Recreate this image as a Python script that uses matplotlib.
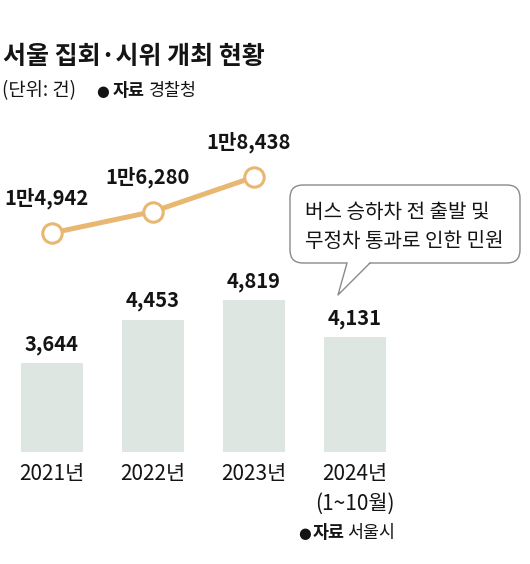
#!/usr/bin/env python3
"""Seoul rally/protest counts (bars) and related civil complaints (line)."""

import matplotlib
matplotlib.use("Agg")
import matplotlib.pyplot as plt
from matplotlib.patches import FancyBboxPatch, Polygon

plt.rcParams["font.family"] = ["Noto Sans CJK KR", "DejaVu Sans"]

# =============================================================================
# Data
# =============================================================================

YEARS = ["2021년", "2022년", "2023년", "2024년\n(1~10월)"]
RALLIES = [3644, 4453, 4819, 4131]          # bars, 자료 서울시
PROTESTS = [14942, 16280, 18438]            # line, 자료 경찰청
PROTEST_LABELS = ["1만4,942", "1만6,280", "1만8,438"]

TITLE = "서울 집회·시위 개최 현황"
CALLOUT = "버스 승하차 전 출발 및\n무정차 통과로 인한 민원"

BAR_COLOR = "#dde6e1"
LINE_COLOR = "#e8b772"
TEXT_COLOR = "#141414"

W, H = 530, 564


def source_line(ov, x_dot, x_bold, x_reg, y, source, size):
    """'●자료 <source>' with a bold '자료'."""
    ov.text(x_dot, y, "●", fontsize=size - 2, color=TEXT_COLOR,
            va="center", ha="left", family=["DejaVu Sans"])
    ov.text(x_bold, y, "자료", fontsize=size, fontweight="bold",
            color=TEXT_COLOR, va="center", ha="left")
    ov.text(x_reg, y, source, fontsize=size, color=TEXT_COLOR,
            va="center", ha="left")


def main() -> None:
    fig = plt.figure(figsize=(W / 100, H / 100), dpi=100)

    # Bars ---------------------------------------------------------------
    ax = fig.add_axes([0.0, (H - 452) / H, 1.0, 332 / H])
    x = list(range(len(YEARS)))
    ax.bar(x, RALLIES, width=0.61, color=BAR_COLOR, zorder=1)
    ax.set_xlim(-0.515, -0.515 + W / 101)
    ax.set_ylim(1984, 8178)
    for xi, v in zip(x, RALLIES):
        ax.annotate(f"{v:,}", xy=(xi, v), xytext=(0, 6),
                    textcoords="offset points", ha="center", va="bottom",
                    fontsize=14.5, fontweight="bold", color=TEXT_COLOR)

    ax.set_xticks(x)
    ax.set_xticklabels(YEARS, fontsize=15, color=TEXT_COLOR)
    ax.tick_params(axis="x", length=0, pad=8)
    for lab in ax.get_xticklabels():
        lab.set_linespacing(1.45)
    ax.set_yticks([])
    for s in ax.spines.values():
        s.set_visible(False)
    ax.patch.set_alpha(0)

    # Line ---------------------------------------------------------------
    ax2 = ax.twinx()
    ax2.set_ylim(1270, 21997)
    xl = x[:len(PROTESTS)]
    ax2.plot(xl, PROTESTS, color=LINE_COLOR, linewidth=3.6, zorder=2,
             marker="o", markersize=14, markerfacecolor="white",
             markeredgecolor=LINE_COLOR, markeredgewidth=2.2)
    for xi, v, lab in zip(xl, PROTESTS, PROTEST_LABELS):
        ax2.annotate(lab, xy=(xi, v), xytext=(-4, 25),
                     textcoords="offset points", ha="center", va="center",
                     fontsize=14.5, fontweight="bold", color=TEXT_COLOR)
    ax2.set_yticks([])
    for s in ax2.spines.values():
        s.set_visible(False)

    # Overlay in pixel coordinates for titles and the speech bubble -------
    ov = fig.add_axes([0, 0, 1, 1], zorder=5)
    ov.set_xlim(0, W)
    ov.set_ylim(H, 0)
    ov.axis("off")
    ov.patch.set_alpha(0)

    ov.text(3, 57, TITLE, fontsize=18, fontweight="bold",
            color=TEXT_COLOR, va="center", ha="left")
    ov.text(2, 91, "(단위: 건)", fontsize=13.5, color=TEXT_COLOR,
            va="center", ha="left")
    source_line(ov, 96, 113, 149, 91, "경찰청", 12.5)
    source_line(ov, 298, 313, 347, 533, "서울시", 12.5)

    # Speech bubble
    edge = "#8a8a8a"
    box = FancyBboxPatch((290, 185), 230, 78,
                         boxstyle="round,pad=0,rounding_size=13",
                         facecolor="white", edgecolor=edge, linewidth=1.0)
    ov.add_patch(box)
    tail = Polygon([(347, 262), (338, 295), (370, 262)], closed=True,
                   facecolor="white", edgecolor="none", zorder=3)
    ov.add_patch(tail)
    ov.plot([347, 338, 370], [263, 295, 263], color=edge, linewidth=1.0,
            zorder=4)
    ov.text(305, 227, CALLOUT, fontsize=14.5, color=TEXT_COLOR,
            va="center", ha="left", linespacing=1.45)

    fig.savefig("out.png", dpi=100, facecolor="white")
    plt.close(fig)


if __name__ == "__main__":
    main()
